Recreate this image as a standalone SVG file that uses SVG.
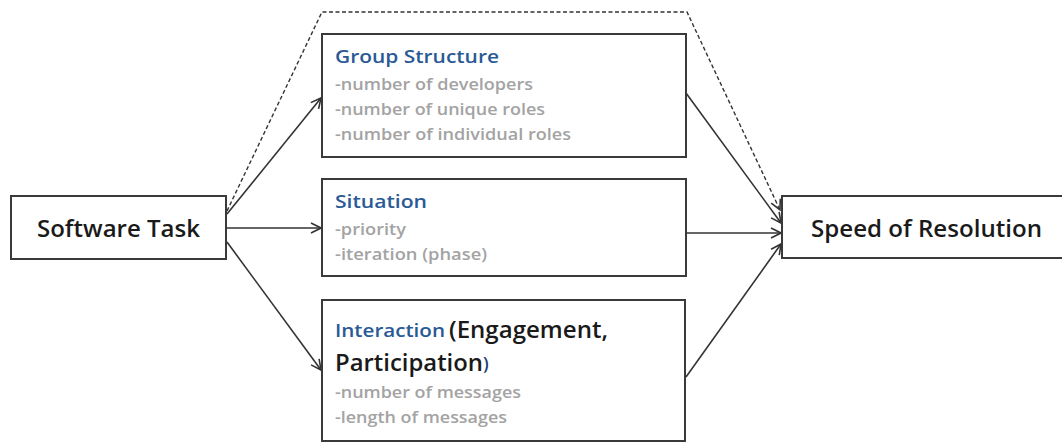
<svg xmlns="http://www.w3.org/2000/svg" width="1062" height="443" viewBox="0 0 1062 443">
<style>
.box{fill:#fff;stroke:#3a3a3a;stroke-width:2}
.edge{fill:none;stroke:#333;stroke-width:1.6}
.dash{fill:none;stroke:#333;stroke-width:1.4;stroke-dasharray:4 2.5}
.main{font-family:"Open Sans","Liberation Sans",sans-serif;font-weight:600;fill:#1a1a1a}
.title{font-family:"Open Sans","Liberation Sans",sans-serif;font-weight:600;fill:#2a5a96;font-size:18px}
.item{font-family:"Open Sans","Liberation Sans",sans-serif;font-weight:600;fill:#a3a3a3;font-size:16px}
</style>
<defs>
<marker id="arr" viewBox="0 0 12 12" refX="11" refY="6" markerWidth="12" markerHeight="12" markerUnits="userSpaceOnUse" orient="auto">
<path d="M1,1 L11,6 L1,11" fill="none" stroke="#333" stroke-width="1.6"/>
</marker>
</defs>
<rect width="1062" height="443" fill="#fff"/>
<g id="connectors">
<path class="dash" d="M227,211 L322,12 L687,12 L780,210" marker-end="url(#arr)"/>
<line class="edge" x1="227" y1="214" x2="321" y2="98" marker-end="url(#arr)"/>
<line class="edge" x1="227" y1="228" x2="321" y2="228" marker-end="url(#arr)"/>
<line class="edge" x1="227" y1="242" x2="321" y2="370" marker-end="url(#arr)"/>
<line class="edge" x1="686" y1="93" x2="781" y2="223" marker-end="url(#arr)"/>
<line class="edge" x1="686" y1="233" x2="781" y2="233" marker-end="url(#arr)"/>
<line class="edge" x1="686" y1="377" x2="781" y2="244" marker-end="url(#arr)"/>
</g>
<g id="software-task">
<rect class="box" x="11" y="196" width="215" height="63"/>
<text class="main" x="37" y="237" font-size="24" textLength="163" lengthAdjust="spacingAndGlyphs">Software Task</text>
</g>
<g id="group-structure">
<rect class="box" x="322" y="34" width="364" height="123"/>
<text class="title" x="335" y="63" textLength="164" lengthAdjust="spacingAndGlyphs">Group Structure</text>
<text class="item" x="335" y="90" textLength="198" lengthAdjust="spacingAndGlyphs">-number of developers</text>
<text class="item" x="335" y="115" textLength="210" lengthAdjust="spacingAndGlyphs">-number of unique roles</text>
<text class="item" x="335" y="140" textLength="236" lengthAdjust="spacingAndGlyphs">-number of individual roles</text>
</g>
<g id="situation">
<rect class="box" x="322" y="179" width="364" height="97"/>
<text class="title" x="335" y="208" textLength="92" lengthAdjust="spacingAndGlyphs">Situation</text>
<text class="item" x="335" y="235" textLength="71" lengthAdjust="spacingAndGlyphs">-priority</text>
<text class="item" x="335" y="260" textLength="152" lengthAdjust="spacingAndGlyphs">-iteration (phase)</text>
</g>
<g id="interaction">
<rect class="box" x="322" y="300" width="363" height="141"/>
<text class="title" x="335" y="337" textLength="110" lengthAdjust="spacingAndGlyphs">Interaction</text>
<text class="main" x="449" y="338" font-size="23" textLength="159" lengthAdjust="spacingAndGlyphs">(Engagement,</text>
<text class="main" x="335" y="371" font-size="23" textLength="148" lengthAdjust="spacingAndGlyphs">Participation</text>
<text class="main" x="483" y="370" font-size="18" style="fill:#1f3f73">)</text>
<text class="item" x="335" y="398" textLength="186" lengthAdjust="spacingAndGlyphs">-number of messages</text>
<text class="item" x="335" y="423" textLength="172" lengthAdjust="spacingAndGlyphs">-length of messages</text>
</g>
<g id="speed-of-resolution">
<rect class="box" x="782" y="196" width="290" height="62"/>
<text class="main" x="811" y="237" font-size="24" textLength="231" lengthAdjust="spacingAndGlyphs">Speed of Resolution</text>
</g>
</svg>
